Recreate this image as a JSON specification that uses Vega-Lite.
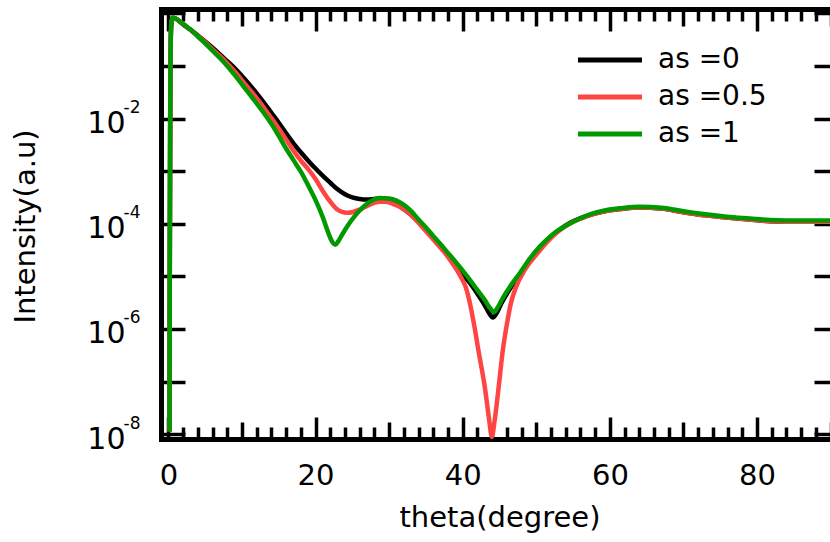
{
  "$schema": "https://vega.github.io/schema/vega-lite/v6.json",
  "width": 677,
  "height": 430,
  "autosize": {"type": "none"},
  "padding": {"left": 161, "top": 9, "right": -8, "bottom": 103},
  "background": "white",
  "config": {
    "view": {"stroke": null},
    "font": "DejaVu Sans",
    "axis": {
      "grid": false,
      "domainColor": "black",
      "domainWidth": 5,
      "domainCap": "square",
      "tickColor": "black",
      "tickWidth": 3.5,
      "labelColor": "black",
      "titleColor": "black",
      "labelFontSize": 29,
      "titleFontSize": 29,
      "titleFontWeight": "normal",
      "labelFont": "DejaVu Sans",
      "titleFont": "DejaVu Sans",
      "labelOverlap": false,
      "labelFlush": false
    },
    "legend": {"labelFont": "DejaVu Sans", "labelColor": "black"}
  },
  "datasets": {
    "curves": [
      {"theta": 0.15, "intensity": 1.122e-8, "series": "as =0"},
      {"theta": 0.2, "intensity": 3.162e-5, "series": "as =0"},
      {"theta": 0.25, "intensity": 0.01, "series": "as =0"},
      {"theta": 0.3, "intensity": 0.1585, "series": "as =0"},
      {"theta": 0.35, "intensity": 0.4467, "series": "as =0"},
      {"theta": 0.45, "intensity": 0.7413, "series": "as =0"},
      {"theta": 0.6, "intensity": 0.822, "series": "as =0"},
      {"theta": 1, "intensity": 0.7943, "series": "as =0"},
      {"theta": 2, "intensity": 0.6166, "series": "as =0"},
      {"theta": 3, "intensity": 0.4898, "series": "as =0"},
      {"theta": 4, "intensity": 0.3802, "series": "as =0"},
      {"theta": 5, "intensity": 0.2917, "series": "as =0"},
      {"theta": 6, "intensity": 0.2213, "series": "as =0"},
      {"theta": 7, "intensity": 0.166, "series": "as =0"},
      {"theta": 8, "intensity": 0.123, "series": "as =0"},
      {"theta": 9, "intensity": 0.0912, "series": "as =0"},
      {"theta": 10, "intensity": 0.06457, "series": "as =0"},
      {"theta": 11, "intensity": 0.04467, "series": "as =0"},
      {"theta": 12, "intensity": 0.0302, "series": "as =0"},
      {"theta": 13, "intensity": 0.01995, "series": "as =0"},
      {"theta": 14, "intensity": 0.01288, "series": "as =0"},
      {"theta": 15, "intensity": 0.008318, "series": "as =0"},
      {"theta": 16, "intensity": 0.005248, "series": "as =0"},
      {"theta": 17, "intensity": 0.003388, "series": "as =0"},
      {"theta": 18, "intensity": 0.002291, "series": "as =0"},
      {"theta": 19, "intensity": 0.001585, "series": "as =0"},
      {"theta": 20, "intensity": 0.001122, "series": "as =0"},
      {"theta": 21, "intensity": 0.0008128, "series": "as =0"},
      {"theta": 22, "intensity": 0.0006026, "series": "as =0"},
      {"theta": 23, "intensity": 0.0004519, "series": "as =0"},
      {"theta": 24, "intensity": 0.0003631, "series": "as =0"},
      {"theta": 25, "intensity": 0.0003162, "series": "as =0"},
      {"theta": 26, "intensity": 0.0002951, "series": "as =0"},
      {"theta": 27, "intensity": 0.0002884, "series": "as =0"},
      {"theta": 28, "intensity": 0.0002951, "series": "as =0"},
      {"theta": 29, "intensity": 0.000302, "series": "as =0"},
      {"theta": 30, "intensity": 0.0002754, "series": "as =0"},
      {"theta": 31, "intensity": 0.0002344, "series": "as =0"},
      {"theta": 32, "intensity": 0.0001905, "series": "as =0"},
      {"theta": 33, "intensity": 0.0001479, "series": "as =0"},
      {"theta": 34, "intensity": 0.0001096, "series": "as =0"},
      {"theta": 35, "intensity": 7.943e-5, "series": "as =0"},
      {"theta": 36, "intensity": 5.495e-5, "series": "as =0"},
      {"theta": 37, "intensity": 3.715e-5, "series": "as =0"},
      {"theta": 38, "intensity": 2.512e-5, "series": "as =0"},
      {"theta": 39, "intensity": 1.66e-5, "series": "as =0"},
      {"theta": 40, "intensity": 1.096e-5, "series": "as =0"},
      {"theta": 41, "intensity": 7.413e-6, "series": "as =0"},
      {"theta": 42, "intensity": 4.677e-6, "series": "as =0"},
      {"theta": 43, "intensity": 2.818e-6, "series": "as =0"},
      {"theta": 43.6, "intensity": 1.995e-6, "series": "as =0"},
      {"theta": 44.1, "intensity": 1.66e-6, "series": "as =0"},
      {"theta": 44.6, "intensity": 1.995e-6, "series": "as =0"},
      {"theta": 45.3, "intensity": 3.162e-6, "series": "as =0"},
      {"theta": 46.4, "intensity": 5.754e-6, "series": "as =0"},
      {"theta": 47.8, "intensity": 1.096e-5, "series": "as =0"},
      {"theta": 49.5, "intensity": 2.399e-5, "series": "as =0"},
      {"theta": 51, "intensity": 4.169e-5, "series": "as =0"},
      {"theta": 52.3, "intensity": 6.166e-5, "series": "as =0"},
      {"theta": 54, "intensity": 9.333e-5, "series": "as =0"},
      {"theta": 56.85, "intensity": 0.0001413, "series": "as =0"},
      {"theta": 59, "intensity": 0.0001698, "series": "as =0"},
      {"theta": 61.4, "intensity": 0.0001905, "series": "as =0"},
      {"theta": 64.1, "intensity": 0.0002042, "series": "as =0"},
      {"theta": 67, "intensity": 0.000195, "series": "as =0"},
      {"theta": 70.4, "intensity": 0.0001622, "series": "as =0"},
      {"theta": 73, "intensity": 0.0001445, "series": "as =0"},
      {"theta": 75.9, "intensity": 0.0001318, "series": "as =0"},
      {"theta": 79, "intensity": 0.0001202, "series": "as =0"},
      {"theta": 81.75, "intensity": 0.0001122, "series": "as =0"},
      {"theta": 86, "intensity": 0.0001096, "series": "as =0"},
      {"theta": 91, "intensity": 0.0001096, "series": "as =0"},

      {"theta": 0.15, "intensity": 1.122e-8, "series": "as =0.5"},
      {"theta": 0.2, "intensity": 3.162e-5, "series": "as =0.5"},
      {"theta": 0.25, "intensity": 0.01, "series": "as =0.5"},
      {"theta": 0.3, "intensity": 0.1585, "series": "as =0.5"},
      {"theta": 0.35, "intensity": 0.4467, "series": "as =0.5"},
      {"theta": 0.45, "intensity": 0.7413, "series": "as =0.5"},
      {"theta": 0.6, "intensity": 0.822, "series": "as =0.5"},
      {"theta": 1, "intensity": 0.7943, "series": "as =0.5"},
      {"theta": 2, "intensity": 0.6237, "series": "as =0.5"},
      {"theta": 3, "intensity": 0.4898, "series": "as =0.5"},
      {"theta": 4, "intensity": 0.3715, "series": "as =0.5"},
      {"theta": 5, "intensity": 0.2818, "series": "as =0.5"},
      {"theta": 6, "intensity": 0.2089, "series": "as =0.5"},
      {"theta": 7, "intensity": 0.1549, "series": "as =0.5"},
      {"theta": 8, "intensity": 0.1122, "series": "as =0.5"},
      {"theta": 9, "intensity": 0.07943, "series": "as =0.5"},
      {"theta": 10, "intensity": 0.0537, "series": "as =0.5"},
      {"theta": 11, "intensity": 0.03631, "series": "as =0.5"},
      {"theta": 12, "intensity": 0.02455, "series": "as =0.5"},
      {"theta": 13, "intensity": 0.01585, "series": "as =0.5"},
      {"theta": 14, "intensity": 0.01023, "series": "as =0.5"},
      {"theta": 15, "intensity": 0.006457, "series": "as =0.5"},
      {"theta": 16, "intensity": 0.003981, "series": "as =0.5"},
      {"theta": 17, "intensity": 0.002455, "series": "as =0.5"},
      {"theta": 18, "intensity": 0.001585, "series": "as =0.5"},
      {"theta": 19, "intensity": 0.001096, "series": "as =0.5"},
      {"theta": 20, "intensity": 0.0007079, "series": "as =0.5"},
      {"theta": 21, "intensity": 0.0004169, "series": "as =0.5"},
      {"theta": 22, "intensity": 0.000263, "series": "as =0.5"},
      {"theta": 22.8, "intensity": 0.000195, "series": "as =0.5"},
      {"theta": 23.5, "intensity": 0.0001698, "series": "as =0.5"},
      {"theta": 24.3, "intensity": 0.0001622, "series": "as =0.5"},
      {"theta": 25, "intensity": 0.000166, "series": "as =0.5"},
      {"theta": 26, "intensity": 0.0001862, "series": "as =0.5"},
      {"theta": 27, "intensity": 0.0002188, "series": "as =0.5"},
      {"theta": 28, "intensity": 0.0002512, "series": "as =0.5"},
      {"theta": 28.7, "intensity": 0.000263, "series": "as =0.5"},
      {"theta": 29.5, "intensity": 0.000263, "series": "as =0.5"},
      {"theta": 30.5, "intensity": 0.0002399, "series": "as =0.5"},
      {"theta": 31.5, "intensity": 0.0002089, "series": "as =0.5"},
      {"theta": 32.5, "intensity": 0.0001698, "series": "as =0.5"},
      {"theta": 33.5, "intensity": 0.000123, "series": "as =0.5"},
      {"theta": 34.5, "intensity": 8.71e-5, "series": "as =0.5"},
      {"theta": 35.5, "intensity": 6.026e-5, "series": "as =0.5"},
      {"theta": 36.5, "intensity": 4.169e-5, "series": "as =0.5"},
      {"theta": 37.6, "intensity": 2.754e-5, "series": "as =0.5"},
      {"theta": 38.5, "intensity": 1.862e-5, "series": "as =0.5"},
      {"theta": 39.3, "intensity": 1.259e-5, "series": "as =0.5"},
      {"theta": 39.9, "intensity": 8.913e-6, "series": "as =0.5"},
      {"theta": 40.4, "intensity": 6.31e-6, "series": "as =0.5"},
      {"theta": 40.8, "intensity": 3.981e-6, "series": "as =0.5"},
      {"theta": 41.2, "intensity": 2.188e-6, "series": "as =0.5"},
      {"theta": 41.6, "intensity": 1.096e-6, "series": "as =0.5"},
      {"theta": 42.2, "intensity": 3.467e-7, "series": "as =0.5"},
      {"theta": 43.0, "intensity": 7.943e-8, "series": "as =0.5"},
      {"theta": 43.6, "intensity": 1.862e-8, "series": "as =0.5"},
      {"theta": 43.95, "intensity": 8.913e-9, "series": "as =0.5"},
      {"theta": 44.35, "intensity": 1.862e-8, "series": "as =0.5"},
      {"theta": 44.93, "intensity": 8.913e-8, "series": "as =0.5"},
      {"theta": 45.4, "intensity": 3.467e-7, "series": "as =0.5"},
      {"theta": 46.1, "intensity": 1.479e-6, "series": "as =0.5"},
      {"theta": 46.6, "intensity": 3.311e-6, "series": "as =0.5"},
      {"theta": 47.2, "intensity": 6.026e-6, "series": "as =0.5"},
      {"theta": 48.5, "intensity": 1.38e-5, "series": "as =0.5"},
      {"theta": 50.05, "intensity": 2.63e-5, "series": "as =0.5"},
      {"theta": 51.5, "intensity": 4.571e-5, "series": "as =0.5"},
      {"theta": 53, "intensity": 7.244e-5, "series": "as =0.5"},
      {"theta": 54.5, "intensity": 0.0001, "series": "as =0.5"},
      {"theta": 56.85, "intensity": 0.000138, "series": "as =0.5"},
      {"theta": 59, "intensity": 0.0001698, "series": "as =0.5"},
      {"theta": 61.4, "intensity": 0.0001905, "series": "as =0.5"},
      {"theta": 64.1, "intensity": 0.0002042, "series": "as =0.5"},
      {"theta": 67, "intensity": 0.000195, "series": "as =0.5"},
      {"theta": 70.4, "intensity": 0.0001622, "series": "as =0.5"},
      {"theta": 73, "intensity": 0.0001445, "series": "as =0.5"},
      {"theta": 75.9, "intensity": 0.0001318, "series": "as =0.5"},
      {"theta": 79, "intensity": 0.0001202, "series": "as =0.5"},
      {"theta": 81.75, "intensity": 0.0001122, "series": "as =0.5"},
      {"theta": 86, "intensity": 0.0001096, "series": "as =0.5"},
      {"theta": 91, "intensity": 0.0001096, "series": "as =0.5"},

      {"theta": 0.15, "intensity": 1.122e-8, "series": "as =1"},
      {"theta": 0.2, "intensity": 3.162e-5, "series": "as =1"},
      {"theta": 0.25, "intensity": 0.01, "series": "as =1"},
      {"theta": 0.3, "intensity": 0.1585, "series": "as =1"},
      {"theta": 0.35, "intensity": 0.4467, "series": "as =1"},
      {"theta": 0.45, "intensity": 0.7413, "series": "as =1"},
      {"theta": 0.6, "intensity": 0.822, "series": "as =1"},
      {"theta": 1, "intensity": 0.7943, "series": "as =1"},
      {"theta": 2, "intensity": 0.631, "series": "as =1"},
      {"theta": 3, "intensity": 0.4898, "series": "as =1"},
      {"theta": 4, "intensity": 0.3631, "series": "as =1"},
      {"theta": 5, "intensity": 0.2692, "series": "as =1"},
      {"theta": 6, "intensity": 0.195, "series": "as =1"},
      {"theta": 7, "intensity": 0.1413, "series": "as =1"},
      {"theta": 8, "intensity": 0.1, "series": "as =1"},
      {"theta": 9, "intensity": 0.06761, "series": "as =1"},
      {"theta": 10, "intensity": 0.04467, "series": "as =1"},
      {"theta": 11, "intensity": 0.02951, "series": "as =1"},
      {"theta": 12, "intensity": 0.0195, "series": "as =1"},
      {"theta": 13, "intensity": 0.01259, "series": "as =1"},
      {"theta": 14, "intensity": 0.007943, "series": "as =1"},
      {"theta": 15, "intensity": 0.004677, "series": "as =1"},
      {"theta": 16, "intensity": 0.002692, "series": "as =1"},
      {"theta": 17, "intensity": 0.001622, "series": "as =1"},
      {"theta": 18, "intensity": 0.0009772, "series": "as =1"},
      {"theta": 19, "intensity": 0.000537, "series": "as =1"},
      {"theta": 20, "intensity": 0.0002818, "series": "as =1"},
      {"theta": 21, "intensity": 0.0001318, "series": "as =1"},
      {"theta": 21.7, "intensity": 6.918e-5, "series": "as =1"},
      {"theta": 22.3, "intensity": 4.467e-5, "series": "as =1"},
      {"theta": 22.7, "intensity": 3.981e-5, "series": "as =1"},
      {"theta": 23.1, "intensity": 4.677e-5, "series": "as =1"},
      {"theta": 23.6, "intensity": 6.166e-5, "series": "as =1"},
      {"theta": 24.3, "intensity": 8.913e-5, "series": "as =1"},
      {"theta": 25.3, "intensity": 0.000138, "series": "as =1"},
      {"theta": 26.5, "intensity": 0.0002089, "series": "as =1"},
      {"theta": 27.5, "intensity": 0.0002692, "series": "as =1"},
      {"theta": 28.7, "intensity": 0.000309, "series": "as =1"},
      {"theta": 30, "intensity": 0.000302, "series": "as =1"},
      {"theta": 31, "intensity": 0.0002754, "series": "as =1"},
      {"theta": 32, "intensity": 0.0002291, "series": "as =1"},
      {"theta": 33, "intensity": 0.0001738, "series": "as =1"},
      {"theta": 34, "intensity": 0.0001202, "series": "as =1"},
      {"theta": 35, "intensity": 8.511e-5, "series": "as =1"},
      {"theta": 36, "intensity": 5.888e-5, "series": "as =1"},
      {"theta": 37, "intensity": 4.074e-5, "series": "as =1"},
      {"theta": 38, "intensity": 2.786e-5, "series": "as =1"},
      {"theta": 39, "intensity": 1.905e-5, "series": "as =1"},
      {"theta": 40, "intensity": 1.288e-5, "series": "as =1"},
      {"theta": 41, "intensity": 8.511e-6, "series": "as =1"},
      {"theta": 42, "intensity": 5.495e-6, "series": "as =1"},
      {"theta": 43, "intensity": 3.548e-6, "series": "as =1"},
      {"theta": 43.7, "intensity": 2.512e-6, "series": "as =1"},
      {"theta": 44.25, "intensity": 2.089e-6, "series": "as =1"},
      {"theta": 44.8, "intensity": 2.63e-6, "series": "as =1"},
      {"theta": 45.5, "intensity": 3.981e-6, "series": "as =1"},
      {"theta": 46.4, "intensity": 6.31e-6, "series": "as =1"},
      {"theta": 47.8, "intensity": 1.175e-5, "series": "as =1"},
      {"theta": 49.2, "intensity": 2.239e-5, "series": "as =1"},
      {"theta": 50.5, "intensity": 3.715e-5, "series": "as =1"},
      {"theta": 51.5, "intensity": 5.129e-5, "series": "as =1"},
      {"theta": 52.5, "intensity": 6.761e-5, "series": "as =1"},
      {"theta": 53.5, "intensity": 8.318e-5, "series": "as =1"},
      {"theta": 54.5, "intensity": 0.0001, "series": "as =1"},
      {"theta": 56, "intensity": 0.0001274, "series": "as =1"},
      {"theta": 57.5, "intensity": 0.0001549, "series": "as =1"},
      {"theta": 59, "intensity": 0.0001758, "series": "as =1"},
      {"theta": 61.4, "intensity": 0.0001972, "series": "as =1"},
      {"theta": 64.1, "intensity": 0.0002113, "series": "as =1"},
      {"theta": 67, "intensity": 0.0002018, "series": "as =1"},
      {"theta": 70.4, "intensity": 0.0001698, "series": "as =1"},
      {"theta": 73, "intensity": 0.0001514, "series": "as =1"},
      {"theta": 75.9, "intensity": 0.0001365, "series": "as =1"},
      {"theta": 79, "intensity": 0.0001259, "series": "as =1"},
      {"theta": 81.75, "intensity": 0.0001175, "series": "as =1"},
      {"theta": 86, "intensity": 0.0001148, "series": "as =1"},
      {"theta": 91, "intensity": 0.0001148, "series": "as =1"}
    ]
  },
  "data": {"name": "curves"},
  "layer": [
    {
      "mark": {"type": "line", "strokeWidth": 4.5, "interpolate": "monotone", "clip": true},
      "encoding": {
        "x": {
          "field": "theta", "type": "quantitative",
          "scale": {"domain": [-1, 91], "nice": false, "zero": false},
          "axis": {
            "orient": "bottom",
            "title": "theta(degree)",
            "values": [0, 2, 4, 6, 8, 10, 12, 14, 16, 18, 20, 22, 24, 26, 28, 30, 32, 34, 36, 38, 40, 42, 44, 46, 48, 50, 52, 54, 56, 58, 60, 62, 64, 66, 68, 70, 72, 74, 76, 78, 80, 82, 84, 86, 88, 90],
            "labelExpr": "datum.value % 20 == 0 ? datum.label : ''",
            "tickSize": {"condition": [{"test": "datum.value % 20 == 0", "value": -22}, {"test": "datum.value % 10 == 0", "value": -17}], "value": -12},
            "labelPadding": 44,
            "titleY": 87,
            "titleBaseline": "alphabetic"
          }
        },
        "y": {
          "field": "intensity", "type": "quantitative",
          "scale": {"type": "log", "domain": [8.1e-9, 1.21], "nice": false},
          "axis": {
            "orient": "left",
            "title": "Intensity(a.u)",
            "values": [1e-8, 1e-7, 0.000001, 0.00001, 0.0001, 0.001, 0.01, 0.1, 1],
            "labelExpr": "(datum.value == 0.01 || datum.value == 0.0001 || datum.value == 0.000001 || datum.value == 1e-8) ? '10' : ''",
            "labelFontSize": 30,
            "tickSize": -24,
            "labelPadding": 60,
            "labelOffset": 5,
            "titleX": -127,
            "titleY": 217,
            "titleBaseline": "alphabetic"
          }
        },
        "color": {
          "field": "series", "type": "nominal",
          "scale": {"domain": ["as =0", "as =0.5", "as =1"], "range": ["#000000", "#ff4444", "#009900"]},
          "legend": {
            "orient": "none",
            "legendX": 435,
            "legendY": 37,
            "title": null,
            "symbolType": "M-4,0H4",
            "symbolSize": 256,
            "symbolStrokeWidth": 5,
            "labelFontSize": 28,
            "labelOffset": 34,
            "rowPadding": 9,
            "padding": 0
          }
        }
      }
    },
    {
      "mark": {"type": "line", "strokeOpacity": 0},
      "encoding": {
        "x": {
          "field": "theta", "type": "quantitative",
          "scale": {"domain": [-1, 91], "nice": false, "zero": false},
          "axis": {
            "orient": "top",
            "title": null,
            "labels": false,
            "values": [0, 2, 4, 6, 8, 10, 12, 14, 16, 18, 20, 22, 24, 26, 28, 30, 32, 34, 36, 38, 40, 42, 44, 46, 48, 50, 52, 54, 56, 58, 60, 62, 64, 66, 68, 70, 72, 74, 76, 78, 80, 82, 84, 86, 88, 90],
            "tickSize": {"condition": [{"test": "datum.value % 20 == 0", "value": -22}, {"test": "datum.value % 10 == 0", "value": -17}], "value": -12}
          }
        },
        "y": {
          "field": "intensity", "type": "quantitative",
          "scale": {"type": "log", "domain": [8.1e-9, 1.21], "nice": false},
          "axis": {
            "orient": "right",
            "title": null,
            "labels": false,
            "values": [1e-8, 1e-7, 0.000001, 0.00001, 0.0001, 0.001, 0.01, 0.1, 1],
            "tickSize": -24
          }
        }
      }
    },
    {
      "mark": {"type": "line", "strokeOpacity": 0},
      "encoding": {
        "x": {
          "field": "theta", "type": "quantitative",
          "scale": {"domain": [-1, 91], "nice": false, "zero": false},
          "axis": null
        },
        "y": {
          "field": "intensity", "type": "quantitative",
          "scale": {"type": "log", "domain": [8.1e-9, 1.21], "nice": false},
          "axis": {
            "orient": "left",
            "title": null,
            "domain": false,
            "ticks": false,
            "values": [1e-8, 0.000001, 0.0001, 0.01],
            "labelExpr": "datum.value == 0.01 ? '-2' : datum.value == 0.0001 ? '-4' : datum.value == 0.000001 ? '-6' : '-8'",
            "labelFontSize": 17,
            "labelPadding": 21,
            "labelOffset": -11
          }
        }
      }
    }
  ],
  "resolve": {"axis": {"x": "independent", "y": "independent"}}
}
